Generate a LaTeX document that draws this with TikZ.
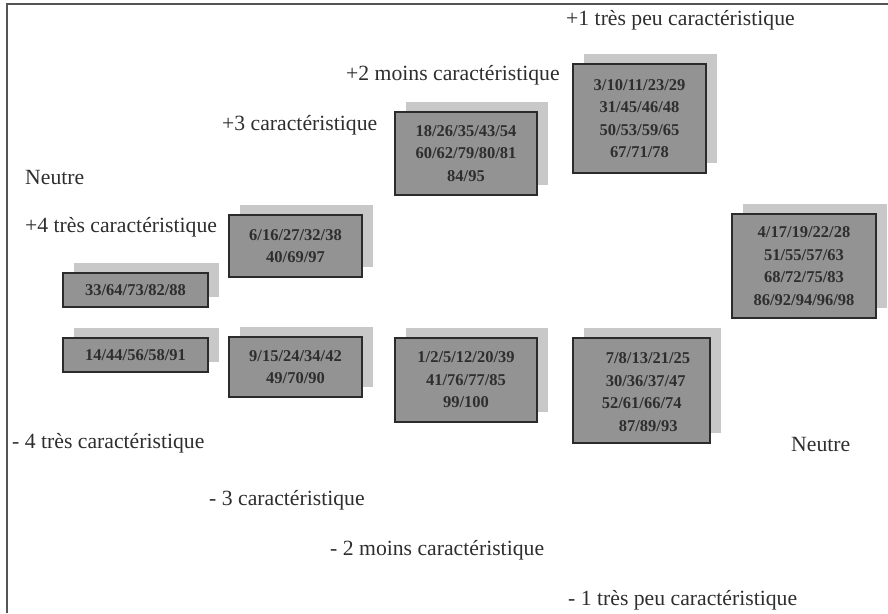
\documentclass[tikz,border=0pt]{standalone}
\usepackage{fontspec}
\setmainfont{Liberation Serif}
\usetikzlibrary{shadows}
\definecolor{boxfill}{HTML}{939393}
\definecolor{shadowfill}{HTML}{C8C8C8}
\definecolor{boxline}{HTML}{2B2B2B}
\definecolor{labeltext}{HTML}{2E2E2E}
\definecolor{frameline}{HTML}{555555}
\tikzset{
  lbl/.style={anchor=west, inner sep=0pt, text=labeltext, font=\fontsize{21.7}{26}\selectfont},
  qbox/.style={draw=boxline, line width=1.4pt, fill=boxfill, inner sep=0pt,
    general shadow={fill=shadowfill, shadow xshift=11pt, shadow yshift=10.5pt},
    text=labeltext, align=center, font=\bfseries\fontsize{16.5}{22.5}\selectfont},
  qtext/.style={inner sep=0pt, text=labeltext, align=left, font=\bfseries\fontsize{16.5}{22.5}\selectfont}
}
\begin{document}
\begin{tikzpicture}[x=1pt,y=-1pt]
\useasboundingbox (0,0) rectangle (888,613);
\draw[frameline, line width=1.8pt] (888,4) -- (7,4) -- (7,613);

% labels
\node[lbl] (p1) at (566,20) {+1 très peu caractéristique};
\node[lbl] (p2) at (346,75) {+2 moins caractéristique};
\node[lbl] (p3) at (222,125) {+3 caractéristique};
\node[lbl] (n1) at (25,177) {Neutre};
\node[lbl] (p4) at (25,227) {+4 très caractéristique};
\node[lbl] (m4) at (12,443) {- 4 très caractéristique};
\node[lbl] (m3) at (209,500) {- 3 caractéristique};
\node[lbl] (m2) at (330,550) {- 2 moins caractéristique};
\node[lbl] (m1) at (568,600) {- 1 très peu caractéristique};
\node[lbl] (n2) at (791,444) {Neutre};

% boxes
\node[qbox, minimum width=145pt, minimum height=34pt] (A) at (135.5,290) {33/64/73/82/88};
\node[qbox, minimum width=145pt, minimum height=34pt] (B) at (135.5,355) {14/44/56/58/91};
\node[qbox, minimum width=133pt, minimum height=62pt] (C) at (295.5,246) {6/16/27/32/38\\40/69/97};
\node[qbox, minimum width=133pt, minimum height=60pt] (D) at (295.5,367) {9/15/24/34/42\\49/70/90};
\node[qbox, minimum width=142pt, minimum height=83pt] (E) at (466,153.5) {18/26/35/43/54\\60/62/79/80/81\\84/95};
\node[qbox, minimum width=142pt, minimum height=84pt] (F) at (466,380) {1/2/5/12/20/39\\41/76/77/85\\99/100};
\node[qbox, minimum width=133pt, minimum height=109pt] (G) at (639.5,118.5) {3/10/11/23/29\\31/45/46/48\\50/53/59/65\\67/71/78};
\node[qbox, minimum width=137pt, minimum height=105pt] (H) at (641.5,390.5) {};
\node[qtext] (Ht) at (646,392) {\hspace*{4pt}7/8/13/21/25\\\hspace*{4pt}30/36/37/47\\52/61/66/74\\\hspace*{17pt}87/89/93};
\node[qbox, minimum width=144pt, minimum height=104pt] (I) at (804,266) {4/17/19/22/28\\51/55/57/63\\68/72/75/83\\86/92/94/96/98};
\end{tikzpicture}
\end{document}
